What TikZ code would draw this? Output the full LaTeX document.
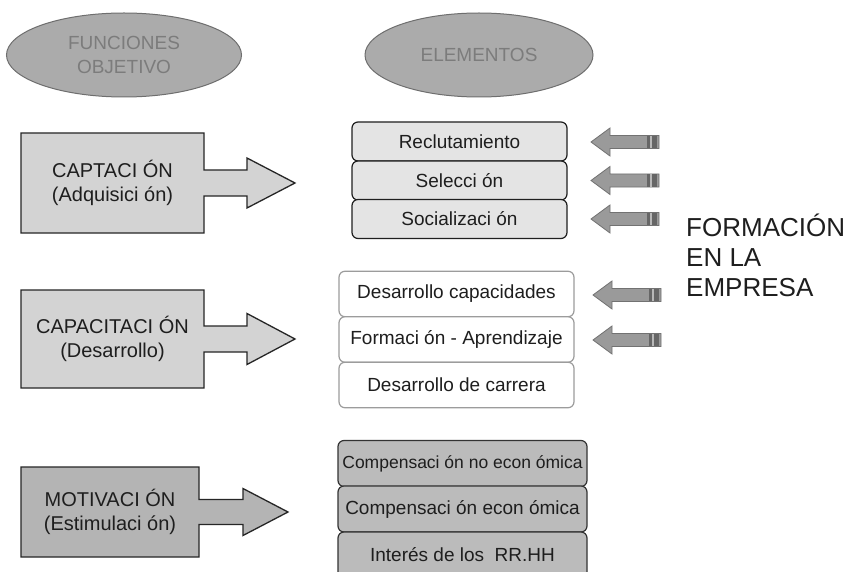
\documentclass[tikz,border=0pt]{standalone}
\usepackage{fontspec}
\setmainfont{Liberation Sans}
\usetikzlibrary{shapes.geometric,calc,backgrounds}
\definecolor{ellfill}{HTML}{ABABAB}
\definecolor{elledge}{HTML}{6E6E6E}
\definecolor{elltext}{HTML}{7C7C7C}
\definecolor{funclight}{HTML}{D3D3D3}
\definecolor{funcdark}{HTML}{B4B4B4}
\definecolor{gonefill}{HTML}{E4E4E4}
\definecolor{gtwoedge}{HTML}{9C9C9C}
\definecolor{gthreefill}{HTML}{BBBBBB}
\definecolor{arrowgray}{HTML}{9A9A9A}
\definecolor{arrowedge}{HTML}{727272}
\definecolor{arrowdark}{HTML}{666666}
\definecolor{inktext}{HTML}{1E1E1E}
\tikzset{
  titleell/.style={ellipse, draw=elledge, fill=ellfill, line width=1pt, text=elltext,
    align=center, font=\fontsize{19}{24}\selectfont, inner sep=0pt, outer sep=0pt},
  funcbox/.style={rectangle, inner sep=0pt, outer sep=0pt, align=center, text=inktext,
    font=\fontsize{20}{24}\selectfont},
  funcshape/.style={draw=black!85, line width=1.3pt, line join=miter},
  elbox/.style={rectangle, rounded corners=6pt, inner sep=0pt, outer sep=0pt, text=inktext,
    font=\fontsize{19}{22}\selectfont, line width=1.2pt},
  gone/.style={elbox, draw=black!88, fill=gonefill, minimum width=215pt, minimum height=39pt},
  gtwo/.style={elbox, draw=gtwoedge, fill=white, minimum width=235pt, minimum height=45.5pt},
  gthree/.style={elbox, draw=black!80, fill=gthreefill, minimum width=249pt, minimum height=46pt},
  formarrow/.pic={
    \filldraw[fill=arrowgray, draw=arrowedge, line width=0.8pt, line join=miter]
      (0,0) -- (19,-14) -- (19,-6.5) -- (68,-6.5) -- (68,6.5) -- (19,6.5) -- (19,14) -- cycle;
    \fill[arrowdark] (56,-6) rectangle (65.5,6);
    \fill[arrowgray!70] (59,-6) rectangle (61,6);
  }
}
\newcommand\FuncArrow[6]{%
  % #1 node, #2 shaft half, #3 head base, #4 head half, #5 tip, #6 fill
  \filldraw[funcshape, fill=#6] (#1.north west) -- (#1.north east) -- ($(#1.east)+(0,-#2)$)
    -- ($(#1.east)+(#3,-#2)$) -- ($(#1.east)+(#3,-#4)$) -- ($(#1.east)+(#5,0)$)
    -- ($(#1.east)+(#3,#4)$) -- ($(#1.east)+(#3,#2)$) -- ($(#1.east)+(0,#2)$)
    -- (#1.south east) -- (#1.south west) -- cycle;}
\begin{document}
\begin{tikzpicture}[x=1pt,y=-1pt]
\useasboundingbox (0,0) rectangle (845,572);

% titles
\node[titleell, minimum width=235pt, minimum height=84pt] (fun) at (124,55) {FUNCIONES\\OBJETIVO};
\node[titleell, minimum width=228pt, minimum height=84pt] (ele) at (479,55) {ELEMENTOS};

% function boxes
\node[funcbox, minimum width=183pt, minimum height=100pt] (capt) at (112.5,183) {CAPTACI ÓN\\(Adquisici ón)};
\node[funcbox, minimum width=183pt, minimum height=98pt] (capa) at (112.5,339) {CAPACITACI ÓN\\(Desarrollo)};
\node[funcbox, minimum width=178pt, minimum height=90pt] (moti) at (110,512) {MOTIVACI ÓN\\(Estimulaci ón)};
\begin{scope}[on background layer]
  \fill[white] (0,0) rectangle (845,572);
  \FuncArrow{capt}{13}{43}{25}{91}{funclight}
  \FuncArrow{capa}{13}{43}{25.5}{91}{funclight}
  \FuncArrow{moti}{12.5}{44}{23.5}{89}{funcdark}
\end{scope}

% elements group 1
\node[gone] (rec) at (459.5,141.5) {Reclutamiento};
\node[gone] (sel) at (459.5,180.5) {Selecci ón};
\node[gone] (soc) at (459.5,219) {Socializaci ón};

% elements group 2
\node[gtwo] (dca) at (456.5,294) {Desarrollo capacidades};
\node[gtwo] (fap) at (456.5,339.5) {Formaci ón - Aprendizaje};
\node[gtwo] (dcr) at (456.5,385) {Desarrollo de carrera};

% elements group 3
\node[gthree] (cne) at (462.5,463.5) {\fontsize{17.5}{20}\selectfont Compensaci ón no econ ómica};
\node[gthree] (cec) at (462.5,509) {Compensaci ón econ ómica};
\node[gthree] (int) at (462.5,555) {Interés de los \ RR.HH};

% arrows of formation
\pic at ($(rec.east)+(24,0.5)$) {formarrow};
\pic at ($(sel.east)+(24,0)$) {formarrow};
\pic at ($(soc.east)+(24,0)$) {formarrow};
\pic at ($(dca.east)+(19,1)$) {formarrow};
\pic at ($(fap.east)+(19,0.5)$) {formarrow};

\node[font=\fontsize{26}{30}\selectfont, align=left, anchor=north west, inner sep=0pt, text=inktext] (form) at (686,213.5) {FORMACIÓN\\EN LA\\EMPRESA};
\end{tikzpicture}
\end{document}
